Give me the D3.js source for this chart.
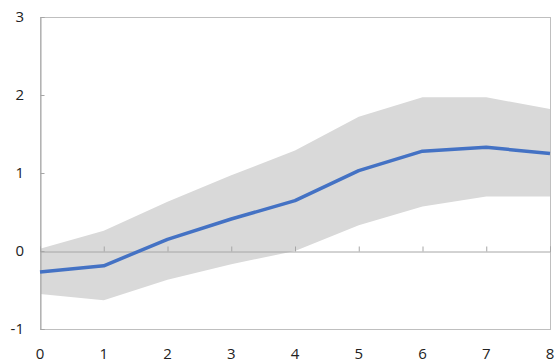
<!DOCTYPE html>
<html>
<head>
<meta charset="utf-8">
<script src="https://cdn.jsdelivr.net/npm/d3@7"></script>
<style>
  body { margin: 0; background: #fff; }
  text { font-family: "Open Sans", "Noto Sans", sans-serif; font-size: 15px; fill: #222; }
</style>
</head>
<body>
<svg width="555" height="362"></svg>
<script>
// periods on the x axis
var periods = [0, 1, 2, 3, 4, 5, 6, 7, 8];
// central estimate
var central = [-0.27, -0.19, 0.15, 0.41, 0.645, 1.03, 1.28, 1.33, 1.25];
// confidence band
var upper = [0.03, 0.26, 0.63, 0.97, 1.29, 1.72, 1.97, 1.97, 1.82];
var lower = [-0.55, -0.63, -0.37, -0.17, 0.0, 0.33, 0.57, 0.70, 0.70];
var yTicks = [-1, 0, 1, 2, 3];

var svg = d3.select("svg"),
	margin = { top: 17, right: 5, bottom: 33, left: 40 },
	width = +svg.attr("width") - margin.left - margin.right,
	height = +svg.attr("height") - margin.top - margin.bottom;

var x = d3.scaleLinear().domain([0, 8]).range([0, width]),
	y = d3.scaleLinear().domain([-1, 3]).range([height, 0]);

var g = svg.append("g").attr("transform", "translate(" + margin.left + "," + margin.top + ")");

var data = periods.map(function(p, i) {
	return { p: p, c: central[i], hi: upper[i], lo: lower[i] };
});

// band
g.append("path").datum(data)
	.attr("fill", "#d9d9d9")
	.attr("d", d3.area()
		.x(function(d) { return x(d.p); })
		.y0(function(d) { return y(d.lo); })
		.y1(function(d) { return y(d.hi); }));

// frame
g.append("rect")
	.attr("x", 0.5).attr("y", 0.5)
	.attr("width", width).attr("height", height)
	.attr("fill", "none").attr("stroke", "#bfbfbf");

// y axis, ticks point inside
var yAxis = g.append("g").attr("transform", "translate(0.5,0)")
	.call(d3.axisRight(y).tickValues(yTicks).tickSize(4).tickFormat(""));
yAxis.select(".domain").attr("stroke", "#a6a6a6");
yAxis.selectAll(".tick line").attr("stroke", "#a6a6a6");

yTicks.forEach(function(t) {
	g.append("text")
		.attr("x", -16).attr("y", y(t))
		.attr("dy", "0.35em")
		.attr("text-anchor", "end")
		.text(t);
});

// zero line with ticks pointing up
var xAxis = g.append("g").attr("transform", "translate(0," + (Math.round(y(0)) + 0.5) + ")")
	.call(d3.axisTop(x).tickValues(periods).tickSize(5).tickFormat(""));
xAxis.select(".domain").attr("stroke", "#a6a6a6");
xAxis.selectAll(".tick line").attr("stroke", "#a6a6a6");

periods.forEach(function(p) {
	g.append("text")
		.attr("x", x(p)).attr("y", height + 25)
		.attr("dy", "0.35em")
		.attr("text-anchor", "middle")
		.text(p);
});

// central line
g.append("path").datum(data)
	.attr("fill", "none")
	.attr("stroke", "#4472c4")
	.attr("stroke-width", 3.5)
	.attr("stroke-linejoin", "round")
	.attr("d", d3.line()
		.x(function(d) { return x(d.p); })
		.y(function(d) { return y(d.c); }));
</script>
</body>
</html>
